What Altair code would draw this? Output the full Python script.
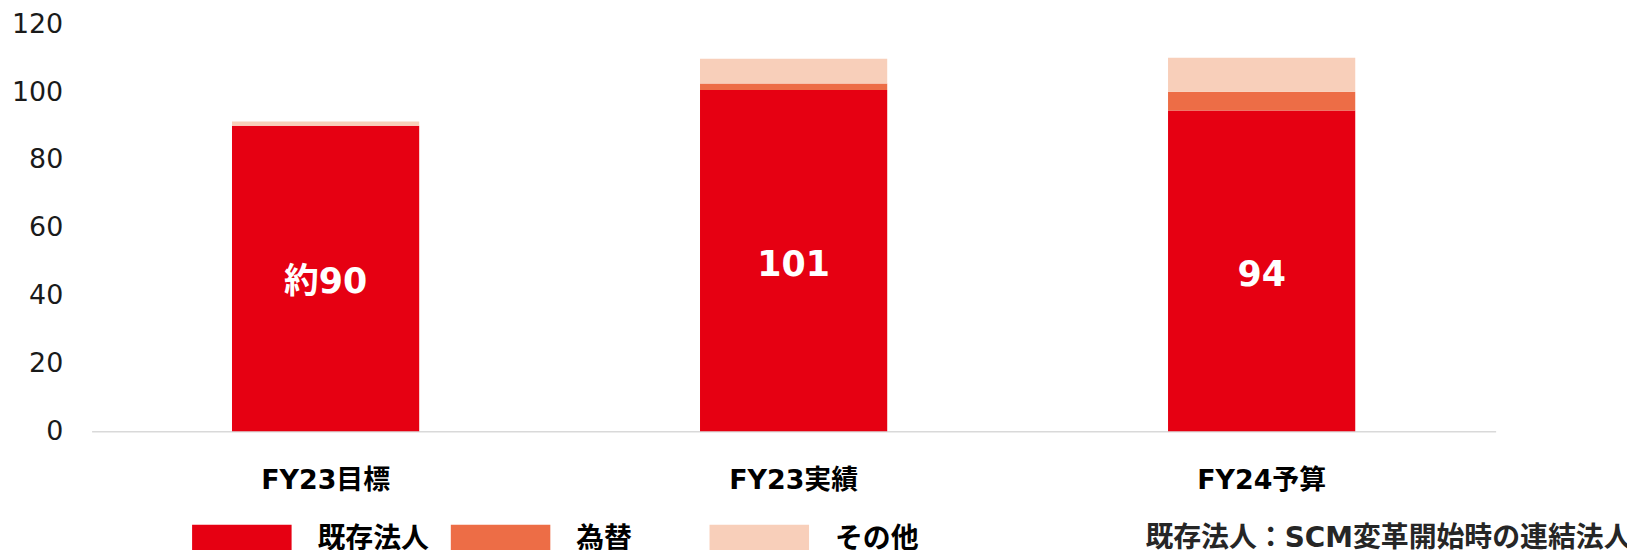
import altair as alt
import pandas as pd

categories = ["FY23目標", "FY23実績", "FY24予算"]
series = ["既存法人", "為替", "その他"]
existing = [90.1, 100.6, 94.6]
fx = [0.0, 1.9, 5.5]
other = [1.2, 7.3, 10.0]
bar_labels = ["約90", "101", "94"]
colors = ["#E60012", "#ED6D46", "#F8CFBA"]
note = "既存法人：SCM変革開始時の連結法人"

rows = []
for i, c in enumerate(categories):
    for j, (s, vals) in enumerate(zip(series, [existing, fx, other])):
        rows.append({"cat": c, "series": s, "value": vals[i], "idx": j,
                     "label": bar_labels[i] if j == 0 else ""})
df = pd.DataFrame(rows)

FONT = "DejaVu Sans, Noto Sans CJK JP"

x_enc = alt.X("cat:N", sort=categories,
              scale=alt.Scale(paddingInner=0.6, paddingOuter=0.3),
              axis=alt.Axis(title=None, labelAngle=0, ticks=False, domainColor="#D9D9D9",
                            domainWidth=1.5, labelFontSize=27, labelFont=FONT,
                            labelFontWeight="bold", labelColor="#000000",
                            labelBaseline="middle", labelPadding=50, grid=False))

bars = alt.Chart(df).mark_bar().encode(
    x=x_enc,
    y=alt.Y("value:Q", stack="zero",
            scale=alt.Scale(domain=[0, 120]),
            axis=alt.Axis(title=None, values=[0, 20, 40, 60, 80, 100, 120], grid=False,
                          domain=False, ticks=False, labelFontSize=27, labelFont=FONT,
                          labelColor="#1a1a1a", labelPadding=29)),
    color=alt.Color("series:N", scale=alt.Scale(domain=series, range=colors),
                    legend=alt.Legend(orient="none", legendX=101, legendY=468,
                                      direction="horizontal", title=None,
                                      symbolType="M-1,-0.3H1V0.3H-1Z", symbolSize=10000,
                                      symbolStrokeWidth=0, labelFontSize=28, labelFont=FONT,
                                      labelFontWeight="bold", labelColor="#000000",
                                      labelOffset=26, columnPadding=21, gridAlign="all",
                                      padding=0, labelLimit=0)),
    order=alt.Order("idx:Q", sort="ascending"),
)

labels = alt.Chart(df).transform_filter(
    alt.datum.idx == 0
).transform_calculate(
    mid="datum.value / 2"
).mark_text(color="white", fontSize=35, fontWeight="bold", font=FONT, baseline="middle",
            dy=4).encode(
    x=alt.X("cat:N", sort=categories),
    y=alt.Y("mid:Q"),
    text="label:N",
)

note_layer = alt.Chart(pd.DataFrame({"t": [note]})).mark_text(
    align="left", baseline="middle", fontSize=28, fontWeight="bold", font=FONT, color="#262626"
).encode(x=alt.value(1059), y=alt.value(517), text="t:N")

chart = alt.layer(bars, labels, note_layer).properties(
    width=1411, height=409,
    autosize=alt.AutoSizeParams(type="none"),
    padding={"left": 84, "top": 15, "right": 132, "bottom": 118},
).configure_view(stroke=None)

chart.save("out.html", embed_options={"renderer": "svg", "actions": False})
